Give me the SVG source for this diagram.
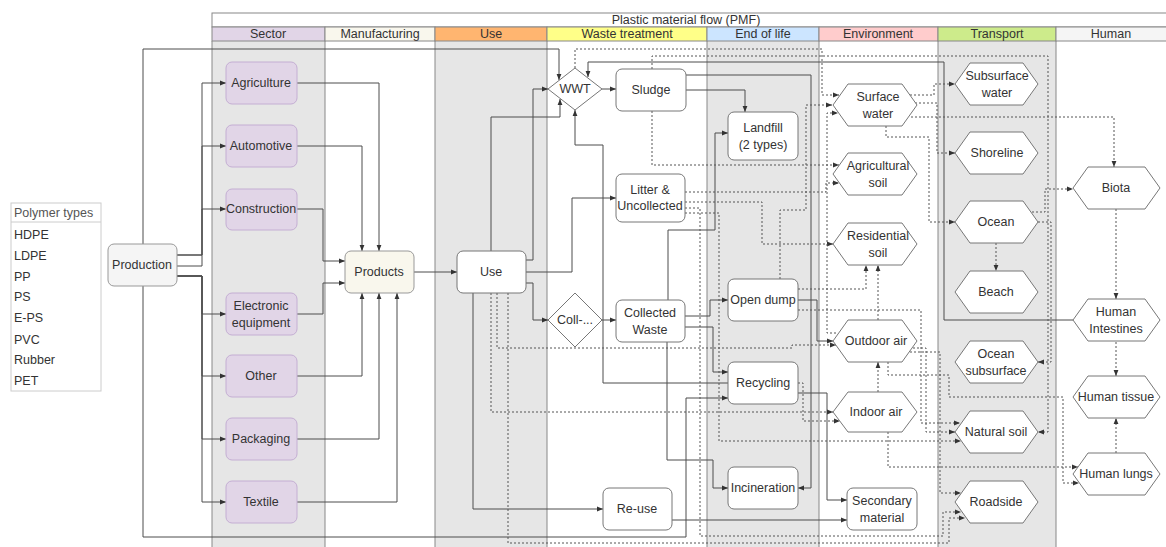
<svg xmlns="http://www.w3.org/2000/svg" width="1166" height="547" viewBox="0 0 1166 547">
<defs>
<marker id="a" viewBox="0 0 10 10" refX="10" refY="5" markerWidth="6" markerHeight="6" orient="auto" markerUnits="userSpaceOnUse"><path d="M0,1 L10,5 L0,9 z" fill="#333"/></marker>
</defs>
<style>
text{font-family:"Liberation Sans",Arial,sans-serif;font-size:12.5px;fill:#333;text-anchor:middle}
.hd{stroke:#888;stroke-width:1}
.lane{stroke:#888;stroke-width:1;fill:none}
.gray{fill:#e6e6e6}
.sec{fill:#e1d5e7;stroke:#c4aed3;stroke-width:1}
.wn{fill:#fff;stroke:#777;stroke-width:1}
.e{fill:none;stroke:#4d4d4d;stroke-width:1;stroke-linejoin:round;marker-end:url(#a)}
.d{fill:none;stroke:#555;stroke-width:1;stroke-dasharray:2 2;marker-end:url(#a)}
.lt{text-anchor:start}
</style>
<rect width="1166" height="547" fill="#fff"/>
<g id="pool">
<rect class="gray" x="212" y="41" width="113" height="506"/>
<rect class="gray" x="435" y="41" width="112" height="506"/>
<rect class="gray" x="707" y="41" width="112" height="506"/>
<rect class="gray" x="938" y="41" width="118" height="506"/>
<rect x="212" y="13" width="960" height="14" fill="#fff" class="hd"/>
<text x="686" y="24">Plastic material flow (PMF)</text>
<rect x="212" y="27" width="113" height="14" fill="#e1d5e7" class="hd"/>
<rect x="325" y="27" width="110" height="14" fill="#f9f7ed" class="hd"/>
<rect x="435" y="27" width="112" height="14" fill="#ffb570" class="hd"/>
<rect x="547" y="27" width="160" height="14" fill="#ffff88" class="hd"/>
<rect x="707" y="27" width="112" height="14" fill="#cce5ff" class="hd"/>
<rect x="819" y="27" width="119" height="14" fill="#ffcccc" class="hd"/>
<rect x="938" y="27" width="118" height="14" fill="#cdeb8b" class="hd"/>
<rect x="1056" y="27" width="116" height="14" fill="#f5f5f5" class="hd"/>
<text x="268" y="38">Sector</text>
<text x="380" y="38">Manufacturing</text>
<text x="491" y="38">Use</text>
<text x="627" y="38">Waste treatment</text>
<text x="763" y="38">End of life</text>
<text x="878" y="38">Environment</text>
<text x="997" y="38">Transport</text>
<text x="1111" y="38">Human</text>
<path class="lane" d="M212,41V547M325,41V547M435,41V547M547,41V547M707,41V547M819,41V547M938,41V547M1056,41V547"/>
</g>
<g id="polymer-types">
<rect x="11" y="203" width="90" height="188" fill="#fff" stroke="#ccc"/>
<line x1="11" y1="222" x2="101" y2="222" stroke="#ccc"/>
<text class="lt" x="14" y="217" style="fill:#555">Polymer types</text>
<text class="lt" x="14" y="239">HDPE</text>
<text class="lt" x="14" y="260">LDPE</text>
<text class="lt" x="14" y="281">PP</text>
<text class="lt" x="14" y="301">PS</text>
<text class="lt" x="14" y="322">E-PS</text>
<text class="lt" x="14" y="344">PVC</text>
<text class="lt" x="14" y="364">Rubber</text>
<text class="lt" x="14" y="385">PET</text>
</g>
<g id="connectors">
<path class="e" d="M177,255H202V83H226"/>
<path class="e" d="M177,255H202V146H226"/>
<path class="e" d="M177,266H202V209H226"/>
<path class="e" d="M177,276H202V314H226"/>
<path class="e" d="M177,276H202V376H226"/>
<path class="e" d="M177,276H202V439H226"/>
<path class="e" d="M177,276H202V502H226"/>
<path class="e" d="M297,83H379V251"/>
<path class="e" d="M297,146H362V251"/>
<path class="e" d="M297,209H323V261H345"/>
<path class="e" d="M297,314H323V283H345"/>
<path class="e" d="M297,376H362V293"/>
<path class="e" d="M297,439H379V293"/>
<path class="e" d="M297,502H397V293"/>
<path class="e" d="M414,272H457"/>
<path class="e" d="M491,251V117H560V99"/>
<path class="e" d="M526,260H533V89H548"/>
<path class="e" d="M526,272H572V198H616"/>
<path class="e" d="M526,283H533V320H548"/>
<path class="e" d="M473,293V509H603"/>
<path class="e" d="M143,244V49H559V80"/>
<path class="e" d="M143,286V537H686V398H728"/>
<path class="e" d="M602,89H616"/>
<path class="e" d="M686,90H745V112"/>
<path class="e" d="M686,75H811V488H798"/>
<path class="e" d="M1073,320H944V62H588V77"/>
<path class="e" d="M602,320H616"/>
<path class="e" d="M685,316H710V300H728"/>
<path class="e" d="M685,327H713V372H728"/>
<path class="e" d="M667,342V460H713V488H728"/>
<path class="e" d="M668,300V230H715V133H728"/>
<path class="e" d="M798,393H827V500H847"/>
<path class="e" d="M671,520H847"/>
<path class="e" d="M728,383H603V145H575V110"/>
<path class="e" d="M798,300H817V341H833"/>
<path class="d" d="M575,68V49H822V95H839"/>
<path class="d" d="M652,69V56H1048V432H1038"/>
<path class="d" d="M910,95H934V84H955"/>
<path class="d" d="M915,103H937V153H955"/>
<path class="d" d="M886,126V137H929V222H955"/>
<path class="d" d="M911,117H1114V167"/>
<path class="d" d="M1116,209V299"/>
<path class="d" d="M1116,342V376"/>
<path class="d" d="M1116,453V418"/>
<path class="d" d="M996,243V271"/>
<path class="d" d="M780,279V210H806V105H832"/>
<path class="d" d="M652,111V165H839"/>
<path class="d" d="M685,192H826V183H839"/>
<path class="d" d="M685,202H762V244H833"/>
<path class="d" d="M685,213H719V441H961"/>
<path class="d" d="M685,208H700V536H943V512H961"/>
<path class="d" d="M497,293V348H792V345H836"/>
<path class="d" d="M491,293V412H833"/>
<path class="d" d="M508,293V543H949V518H965"/>
<path class="d" d="M798,289H866V265"/>
<path class="d" d="M878,320V265"/>
<path class="d" d="M878,392V362"/>
<path class="d" d="M798,310H921V423H960"/>
<path class="d" d="M913,348H926V432H955"/>
<path class="d" d="M910,352H940V493H961"/>
<path class="d" d="M888,432V467H1078"/>
<path class="d" d="M888,362V375H949V397H1063V483H1079"/>
<path class="d" d="M798,383H803V421H840"/>
<path class="d" d="M836,333H827V113H838"/>
<path class="d" d="M1032,212H1045V189H1073"/>
<path class="d" d="M1038,222H1051V362H1038"/>
</g>
<g id="production"><rect x="108" y="244" width="69" height="42" rx="6" fill="#f5f5f5" stroke="#999"/><text x="142" y="269">Production</text></g>
<g id="agriculture"><rect class="sec" x="226" y="62" width="71" height="42" rx="6"/><text x="261" y="87">Agriculture</text></g>
<g id="automotive"><rect class="sec" x="226" y="125" width="71" height="42" rx="6"/><text x="261" y="150">Automotive</text></g>
<g id="construction"><rect class="sec" x="226" y="189" width="71" height="41" rx="6"/><text x="261" y="213">Construction</text></g>
<g id="electronic"><rect class="sec" x="226" y="293" width="71" height="42" rx="6"/><text x="261" y="310">Electronic</text><text x="261" y="327">equipment</text></g>
<g id="other"><rect class="sec" x="226" y="355" width="71" height="42" rx="6"/><text x="261" y="380">Other</text></g>
<g id="packaging"><rect class="sec" x="226" y="418" width="71" height="42" rx="6"/><text x="261" y="443">Packaging</text></g>
<g id="textile"><rect class="sec" x="226" y="481" width="71" height="42" rx="6"/><text x="261" y="506">Textile</text></g>
<g id="products"><rect x="345" y="251" width="69" height="42" rx="6" fill="#f9f7ed" stroke="#999"/><text x="379" y="276">Products</text></g>
<g id="use"><rect class="wn" x="457" y="251" width="69" height="42" rx="6"/><text x="491" y="276">Use</text></g>
<g id="wwt"><polygon class="wn" points="548,89 575,68 602,89 575,110"/><text x="575" y="93">WWT</text></g>
<g id="coll"><polygon class="wn" points="548,320 575,293 602,320 575,347"/><text x="575" y="324">Coll-...</text></g>
<g id="sludge"><rect class="wn" x="616" y="69" width="70" height="42" rx="6"/><text x="651" y="94">Sludge</text></g>
<g id="litter"><rect class="wn" x="616" y="174" width="69" height="48" rx="6"/><text x="650" y="194">Litter &amp;</text><text x="650" y="210">Uncollected</text></g>
<g id="collected-waste"><rect class="wn" x="616" y="300" width="69" height="42" rx="6"/><text x="650" y="317">Collected</text><text x="650" y="334">Waste</text></g>
<g id="re-use"><rect class="wn" x="603" y="488" width="69" height="42" rx="6"/><text x="637" y="513">Re-use</text></g>
<g id="landfill"><rect class="wn" x="728" y="112" width="70" height="48" rx="6"/><text x="763" y="132">Landfill</text><text x="763" y="149">(2 types)</text></g>
<g id="open-dump"><rect class="wn" x="728" y="279" width="70" height="42" rx="6"/><text x="763" y="304">Open dump</text></g>
<g id="recycling"><rect class="wn" x="728" y="362" width="70" height="42" rx="6"/><text x="763" y="387">Recycling</text></g>
<g id="incineration"><rect class="wn" x="728" y="467" width="70" height="42" rx="6"/><text x="763" y="492">Incineration</text></g>
<g id="secondary-material"><rect class="wn" x="847" y="488" width="70" height="42" rx="6"/><text x="882" y="505">Secondary</text><text x="882" y="522">material</text></g>
<g id="surface-water"><polygon class="wn" points="833,105 848,84 902,84 917,105 902,126 848,126"/><text x="878" y="101">Surface</text><text x="878" y="118">water</text></g>
<g id="agricultural-soil"><polygon class="wn" points="833,174 848,153 902,153 917,174 902,195 848,195"/><text x="878" y="170">Agricultural</text><text x="878" y="187">soil</text></g>
<g id="residential-soil"><polygon class="wn" points="833,244 848,223 902,223 917,244 902,265 848,265"/><text x="878" y="240">Residential</text><text x="878" y="257">soil</text></g>
<g id="outdoor-air"><polygon class="wn" points="833,341 848,320 902,320 917,341 902,362 848,362"/><text x="876" y="345">Outdoor air</text></g>
<g id="indoor-air"><polygon class="wn" points="833,412 848,392 902,392 917,412 902,432 848,432"/><text x="876" y="416">Indoor air</text></g>
<g id="subsurface-water"><polygon class="wn" points="955,84 970,63 1023,63 1038,84 1023,105 970,105"/><text x="997" y="80">Subsurface</text><text x="997" y="97">water</text></g>
<g id="shoreline"><polygon class="wn" points="955,153 970,132 1023,132 1038,153 1023,174 970,174"/><text x="997" y="157">Shoreline</text></g>
<g id="ocean"><polygon class="wn" points="955,222 970,201 1023,201 1038,222 1023,243 970,243"/><text x="996" y="226">Ocean</text></g>
<g id="beach"><polygon class="wn" points="955,292 970,271 1023,271 1038,292 1023,313 970,313"/><text x="996" y="296">Beach</text></g>
<g id="ocean-subsurface"><polygon class="wn" points="955,362 970,341 1023,341 1038,362 1023,383 970,383"/><text x="996" y="358">Ocean</text><text x="996" y="375">subsurface</text></g>
<g id="natural-soil"><polygon class="wn" points="955,432 970,411 1023,411 1038,432 1023,453 970,453"/><text x="996" y="436">Natural soil</text></g>
<g id="roadside"><polygon class="wn" points="955,502 970,481 1023,481 1038,502 1023,523 970,523"/><text x="996" y="506">Roadside</text></g>
<g id="biota"><polygon class="wn" points="1073,188 1088,167 1145,167 1160,188 1145,209 1088,209"/><text x="1116" y="192">Biota</text></g>
<g id="human-intestines"><polygon class="wn" points="1073,320 1088,299 1145,299 1160,320 1145,341 1088,341"/><text x="1116" y="316">Human</text><text x="1116" y="333">Intestines</text></g>
<g id="human-tissue"><polygon class="wn" points="1073,397 1088,376 1145,376 1160,397 1145,418 1088,418"/><text x="1116" y="401">Human tissue</text></g>
<g id="human-lungs"><polygon class="wn" points="1073,474 1088,453 1145,453 1160,474 1145,495 1088,495"/><text x="1116" y="478">Human lungs</text></g>
</svg>
